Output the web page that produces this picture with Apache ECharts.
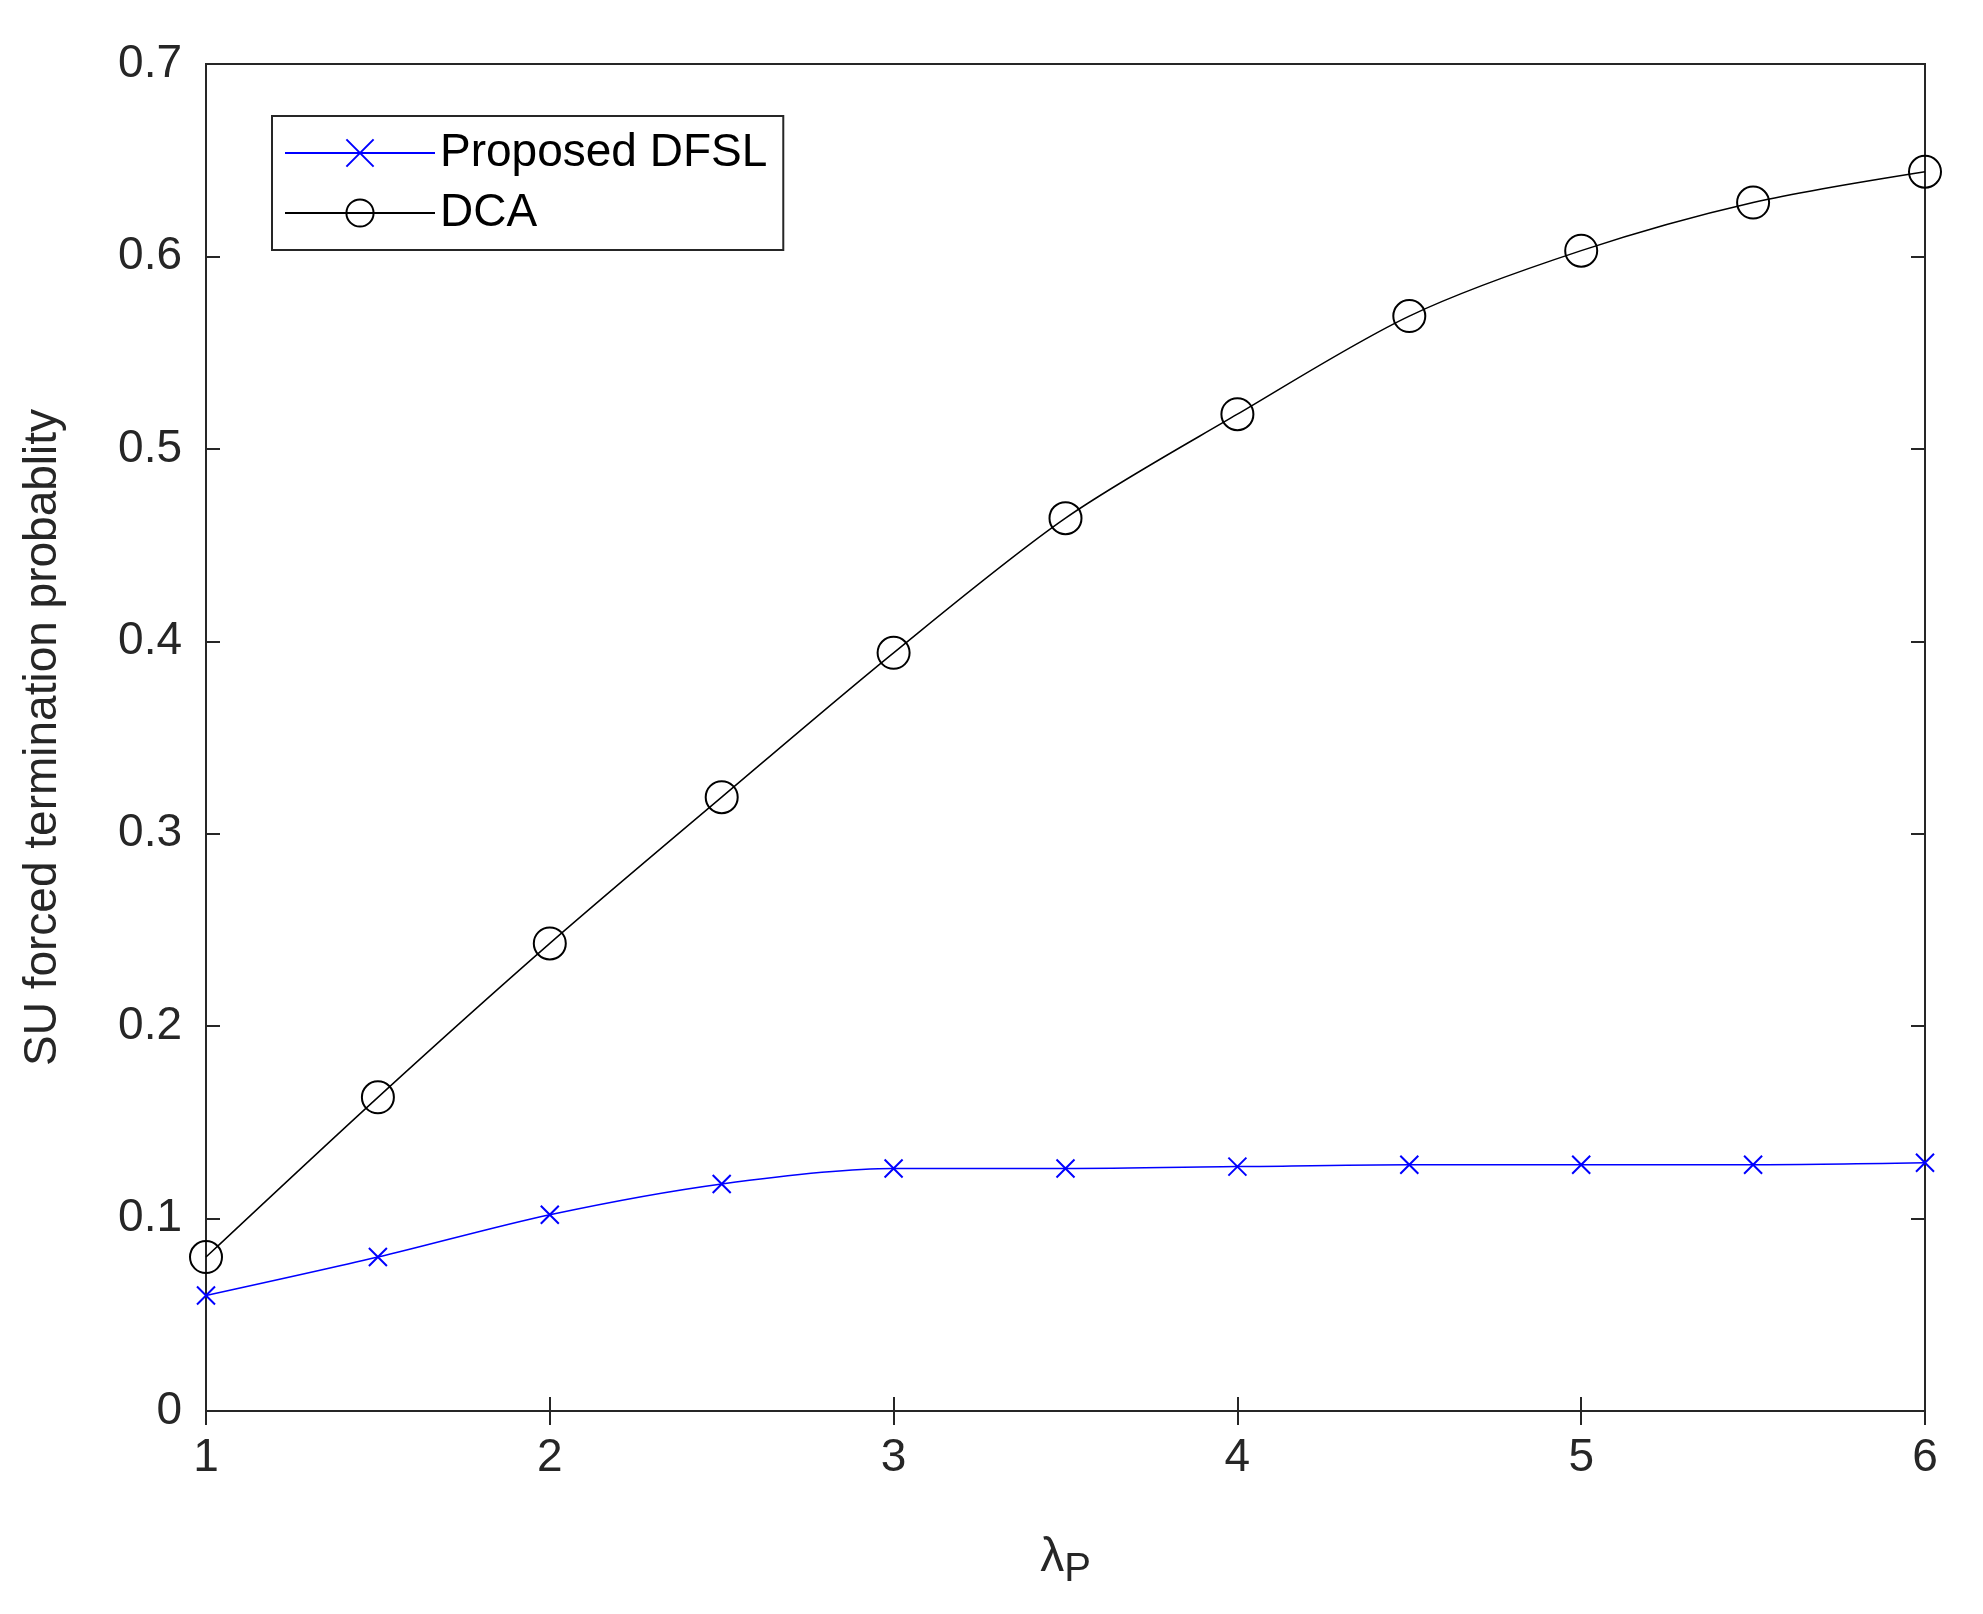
<!DOCTYPE html>
<html><head><meta charset="utf-8">
<script src="https://cdn.jsdelivr.net/npm/echarts@6/dist/echarts.min.js"></script>
<style>html,body{margin:0;background:#fff}#c{width:1983px;height:1614px}</style>
</head><body><div id="c"></div>
<script>
const lambdaP = [1, 1.5, 2, 2.5, 3, 3.5, 4, 4.5, 5, 5.5, 6];
const dfsl = [0.060, 0.080, 0.102, 0.118, 0.126, 0.126, 0.127, 0.128, 0.128, 0.128, 0.129];
const dca = [0.080, 0.163, 0.243, 0.319, 0.394, 0.464, 0.518, 0.569, 0.603, 0.628, 0.644];

const chart = echarts.init(document.getElementById('c'));
const font = 'Helvetica, Arial, "Liberation Sans", sans-serif';
const axisCommon = {
    axisLine: { show: true, onZero: false, lineStyle: { color: '#262626', width: 2 } },
    axisTick: { show: true, inside: true, length: 14, lineStyle: { color: '#262626', width: 2 } },
    axisLabel: { color: '#262626', fontSize: 46, fontFamily: font, margin: 24 },
    splitLine: { show: false }
};
const mirror = { axisLabel: { show: false }, axisLine: { show: true, lineStyle: { color: '#262626', width: 2 } },
    axisTick: { show: true, inside: true, length: 14, lineStyle: { color: '#262626', width: 2 } }, splitLine: { show: false } };
chart.setOption({
    animation: false,
    grid: { left: 206, right: 58, top: 64, bottom: 203, show: true, borderColor: '#262626', borderWidth: 2 },
    legend: {
        left: 272, top: 116, orient: 'vertical', itemGap: 14, itemWidth: 150, itemHeight: 34,
        backgroundColor: '#fff', borderColor: '#262626', borderWidth: 2, padding: [14, 16, 14, 12],
        textStyle: { fontSize: 46, fontFamily: font, color: '#000' },
        data: ['Proposed DFSL', 'DCA']
    },
    xAxis: [Object.assign({
        type: 'value', min: 1, max: 6, interval: 1,
        name: 'λ{s|P}', nameLocation: 'middle', nameGap: 115,
        nameTextStyle: { fontSize: 48, fontFamily: font, color: '#262626', rich: { s: { fontSize: 40, verticalAlign: 'bottom', padding: [24, 0, 0, 0] } } }
    }, axisCommon), Object.assign({ type: 'value', position: 'top', min: 1, max: 6, interval: 1 }, mirror)],
    yAxis: [Object.assign({
        type: 'value', min: 0, max: 0.7, interval: 0.1,
        name: 'SU forced termination probablity', nameLocation: 'middle', nameGap: 140,
        nameTextStyle: { fontSize: 46, fontFamily: font, color: '#262626' }
    }, axisCommon), Object.assign({ type: 'value', position: 'right', min: 0, max: 0.7, interval: 0.1 }, mirror)],
    series: [
        {
            name: 'Proposed DFSL', type: 'line', smooth: 0.3,
            data: lambdaP.map((x, i) => [x, dfsl[i]]),
            symbol: 'path://M0,0L10,10M10,0L0,10', symbolSize: 18,
            lineStyle: { color: '#0000ff', width: 1.5 },
            itemStyle: { color: 'none', borderColor: '#0000ff', borderWidth: 2 }
        },
        {
            name: 'DCA', type: 'line', smooth: 0.3,
            data: lambdaP.map((x, i) => [x, dca[i]]),
            symbol: 'circle', symbolSize: 32,
            lineStyle: { color: '#000', width: 1.5 },
            itemStyle: { color: 'transparent', borderColor: '#000', borderWidth: 2 }
        }
    ]
});
</script></body></html>
